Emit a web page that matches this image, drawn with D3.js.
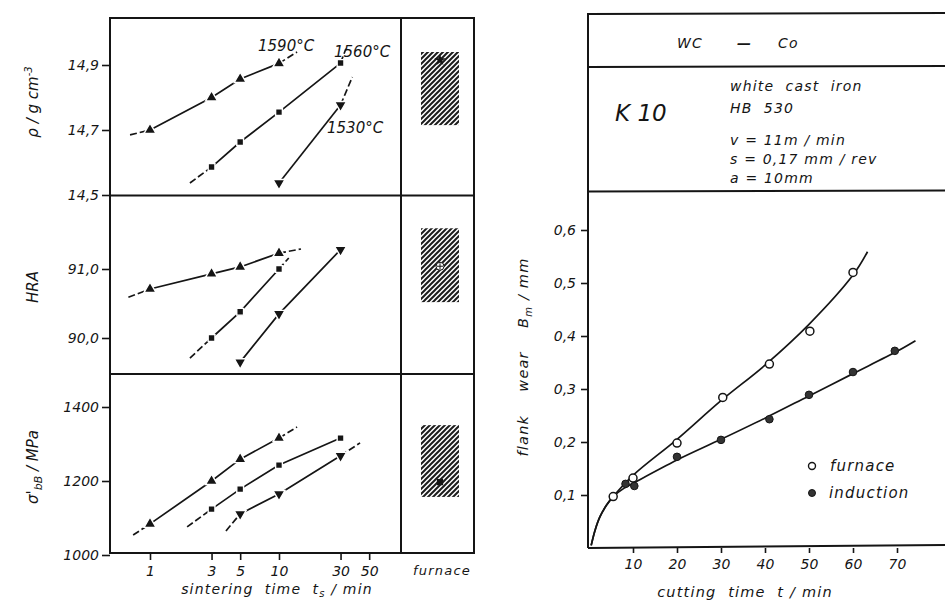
<!DOCTYPE html>
<html>
<head>
<meta charset="utf-8">
<script src="https://cdn.jsdelivr.net/npm/d3@7"></script>
<style>
  body { margin: 0; background: #fff; }
  text { font-family: "DejaVu Sans", sans-serif; font-style: italic; fill: #151515; }
  .lbl { letter-spacing: 1.2px; white-space: pre; }
</style>
</head>
<body>
<svg width="945" height="607"></svg>
<script>
// ---- left figure: sintering time (log) ----
var sinterTicks = [1, 3, 5, 10, 30, 50];
var tempLabels = ["1590°C", "1560°C", "1530°C"];

var rho1590 = [[1, 14.70], [3, 14.80], [5, 14.857], [10, 14.905]];
var rho1560 = [[3, 14.586], [5, 14.663], [10, 14.755], [30, 14.906]];
var rho1530 = [[10, 14.537], [30, 14.777]];
var rhoEnds = [[[0.7, 14.685], [13.8, 14.94]], [[2.04, 14.537], [33, 14.95]], [[10, 14.537], [37, 14.863]]];

var hra1590 = [[1, 90.71], [3, 90.93], [5, 91.03], [10, 91.23]];
var hra1560 = [[3, 90.0], [5, 90.38], [10, 91.0]];
var hra1530 = [[5, 89.65], [10, 90.35], [30, 91.28]];
var hraEnds = [[[0.68, 90.59], [14.8, 91.29]], [[2.04, 89.71], [11.9, 91.16]], [[5, 89.65], [30, 91.28]]];

var sig1590 = [[1, 1084], [3, 1200], [5, 1259], [10, 1316]];
var sig1560 = [[3, 1124], [5, 1178], [10, 1243], [30, 1316]];
var sig1530 = [[5, 1111], [10, 1165], [30, 1268]];
var sigEnds = [[[0.74, 1054], [13.8, 1346]], [[1.94, 1076], [30, 1316]], [[3.88, 1065], [42.5, 1303]]];

// furnace column: [low, high] band and marker
var rhoFurnace = [14.715, 14.94, 14.915];
var hraFurnace = [90.52, 91.59, 91.04];
var sigFurnace = [1157, 1351, 1197];

// ---- right figure: flank wear vs cutting time ----
var cutTicks = [10, 20, 30, 40, 50, 60, 70];
var wearTicks = [0.1, 0.2, 0.3, 0.4, 0.5, 0.6];
var furnacePts = [[5.5, 0.097], [10, 0.132], [20, 0.198], [30.4, 0.284], [41, 0.347], [50.2, 0.409], [60, 0.52]];
var inductionPts = [[8.3, 0.121], [10.3, 0.117], [20, 0.172], [30, 0.204], [41, 0.243], [50, 0.289], [60, 0.332], [69.5, 0.372]];
var furnaceCurve = [[0.5, 0.005], [1.4, 0.034], [2.5, 0.059], [4, 0.081], [5.5, 0.097], [10, 0.137], [20, 0.205],
  [30, 0.278], [40, 0.345], [50, 0.422], [60, 0.515], [63.3, 0.559]];
var inductionCurve = [[0.5, 0.005], [1.4, 0.034], [2.5, 0.059], [4, 0.081], [5.5, 0.097], [8, 0.113], [10, 0.122],
  [20, 0.166], [30, 0.205], [40, 0.245], [50, 0.287], [60, 0.329], [70, 0.371], [74.2, 0.391]];

var svg = d3.select("svg");
var ink = "#151515";
var comma = function(f) { return function(d) { return d3.format(f)(d).replace(".", ","); }; };

svg.append("defs").append("pattern")
  .attr("id", "hatch").attr("patternUnits", "userSpaceOnUse")
  .attr("width", 5).attr("height", 5)
  .append("path")
  .attr("d", "M-1,1 l2,-2 M0,5 l5,-5 M4,6 l2,-2")
  .attr("stroke", "#1c1c1c").attr("stroke-width", 2);

var x = d3.scaleLog().domain([1, 10]).range([150, 279]);

var panels = [
  { y: d3.scaleLinear().domain([14.5, 14.9]).range([195, 65]), ticks: [14.5, 14.7, 14.9], fmt: comma(".1f"),
    series: [rho1590, rho1560, rho1530], ends: rhoEnds, furnace: rhoFurnace, sym: d3.symbolStar },
  { y: d3.scaleLinear().domain([90, 91]).range([338, 269]), ticks: [90, 91], fmt: comma(".1f"),
    series: [hra1590, hra1560, hra1530], ends: hraEnds, furnace: hraFurnace, sym: d3.symbolCircle },
  { y: d3.scaleLinear().domain([1200, 1400]).range([481, 407]), ticks: [1000, 1200, 1400], fmt: d3.format("d"),
    series: [sig1590, sig1560, sig1530], ends: sigEnds, furnace: sigFurnace, sym: d3.symbolSquare }
];

var markers = [
  d3.symbol().type(d3.symbolTriangle).size(62),
  d3.symbol().type(d3.symbolSquare).size(46),
  d3.symbol().type(d3.symbolTriangle).size(62)
];

var line = d3.line().x(function(d) { return x(d[0]); });

panels.forEach(function(p) {
  var g = svg.append("g");
  line.y(function(d) { return p.y(d[1]); });

  g.append("g").attr("transform", "translate(110,0)")
    .call(d3.axisLeft(p.y).tickValues(p.ticks).tickFormat(p.fmt).tickSize(8).tickPadding(3))
    .call(function(a) {
      a.select(".domain").remove();
      a.selectAll("line").attr("stroke", ink).attr("stroke-width", 1.6);
      a.selectAll("text").attr("font-size", 14).attr("fill", ink);
    });

  p.series.forEach(function(s, i) {
    var e = p.ends[i];
    g.append("path").attr("d", line(s)).attr("fill", "none").attr("stroke", ink).attr("stroke-width", 1.7);
    [[e[0], s[0]], [s[s.length - 1], e[1]]].forEach(function(seg) {
      if (seg[0][0] === seg[1][0]) return;
      g.append("path").attr("d", line(seg)).attr("fill", "none").attr("stroke", ink)
        .attr("stroke-width", 1.7).attr("stroke-dasharray", "7,3");
    });
    g.selectAll(null).data(s).enter().append("path")
      .attr("d", markers[i])
      .attr("transform", function(d) {
        return "translate(" + x(d[0]) + "," + p.y(d[1]) + ")" + (i === 2 ? " rotate(180)" : "");
      })
      .attr("fill", ink).attr("stroke", "#fff").attr("stroke-width", 1.4);
  });

  // furnace band
  var f = p.furnace;
  g.append("rect").attr("x", 421).attr("width", 38)
    .attr("y", p.y(f[1])).attr("height", p.y(f[0]) - p.y(f[1]))
    .attr("fill", "url(#hatch)");
  var m = g.append("g").attr("transform", "translate(440," + p.y(f[2]) + ")");
  if (p.sym === d3.symbolCircle) {
    m.append("circle").attr("r", 4).attr("fill", "#fff").attr("stroke", ink).attr("stroke-width", 1);
    m.append("path").attr("d", "M-3,0H3M0,-3V3").attr("stroke", ink).attr("stroke-width", 1);
  } else {
    m.append("path").attr("d", d3.symbol().type(p.sym).size(40)).attr("fill", ink);
  }
});

// temperature labels
svg.append("text").attr("x", 258).attr("y", 51).attr("font-size", 15).text(tempLabels[0]);
svg.append("text").attr("x", 334).attr("y", 57).attr("font-size", 15).text(tempLabels[1]);
svg.append("text").attr("x", 327).attr("y", 133).attr("font-size", 15).text(tempLabels[2]);

// left frame
var frame = svg.append("g").attr("fill", "none").attr("stroke", ink).attr("stroke-width", 2);
frame.append("rect").attr("x", 110).attr("y", 18).attr("width", 364).attr("height", 535);
frame.append("line").attr("x1", 401).attr("x2", 401).attr("y1", 18).attr("y2", 553);
frame.append("line").attr("x1", 110).attr("x2", 474).attr("y1", 195.5).attr("y2", 195.5);
frame.append("line").attr("x1", 110).attr("x2", 474).attr("y1", 374).attr("y2", 374);

svg.append("g").attr("transform", "translate(0,553)")
  .call(d3.axisBottom(x).tickValues(sinterTicks).tickFormat(d3.format("d")).tickSize(7).tickPadding(6))
  .call(function(a) {
    a.select(".domain").remove();
    a.selectAll("line").attr("stroke", ink).attr("stroke-width", 1.6);
    a.selectAll("text").attr("font-size", 14).attr("fill", ink);
  });

svg.append("text").attr("class", "lbl").attr("x", 442).attr("y", 575).attr("text-anchor", "middle").attr("font-size", 13).text("furnace");
svg.append("text").attr("class", "lbl").attr("x", 277).attr("y", 594).attr("text-anchor", "middle").attr("font-size", 14)
  .html('sintering  time  t<tspan dy="3" font-size="10">s</tspan><tspan dy="-3"> / min</tspan>');

svg.append("text").attr("transform", "translate(38,102) rotate(-90)").attr("text-anchor", "middle").attr("font-size", 15)
  .html('ρ / g cm<tspan dy="-6" font-size="10">-3</tspan>');
svg.append("text").attr("transform", "translate(38,287) rotate(-90)").attr("text-anchor", "middle").attr("font-size", 15)
  .text("HRA");
svg.append("text").attr("transform", "translate(38,467) rotate(-90)").attr("text-anchor", "middle").attr("font-size", 15)
  .html('σ\'<tspan dy="4" font-size="11">bB</tspan><tspan dy="-4"> / MPa</tspan>');

// ---- right figure ----
var xr = d3.scaleLinear().domain([0, 70]).range([589, 897]);
var yr = d3.scaleLinear().domain([0, 0.6]).range([548, 230]);

var rf = svg.append("g").attr("stroke", ink).attr("stroke-width", 2).attr("fill", "none");
rf.append("line").attr("x1", 588).attr("x2", 945).attr("y1", 14).attr("y2", 13);
rf.append("line").attr("x1", 588).attr("x2", 945).attr("y1", 67).attr("y2", 66);
rf.append("line").attr("x1", 588).attr("x2", 945).attr("y1", 191.5).attr("y2", 190.5);
rf.append("line").attr("x1", 588).attr("x2", 588).attr("y1", 13).attr("y2", 548);
rf.append("line").attr("x1", 588).attr("x2", 945).attr("y1", 548).attr("y2", 545);

svg.append("g").attr("transform", "translate(588,0)")
  .call(d3.axisLeft(yr).tickValues(wearTicks).tickFormat(comma(".1f")).tickSize(7).tickPadding(5))
  .call(function(a) {
    a.select(".domain").remove();
    a.selectAll("line").attr("stroke", ink).attr("stroke-width", 1.6);
    a.selectAll("text").attr("font-size", 14).attr("fill", ink);
  });
svg.append("g").attr("transform", "translate(0,548)")
  .call(d3.axisBottom(xr).tickValues(cutTicks).tickFormat(d3.format("d")).tickSize(5).tickPadding(6))
  .call(function(a) {
    a.select(".domain").remove();
    a.selectAll("line").attr("stroke", ink).attr("stroke-width", 1.6);
    a.selectAll("text").attr("font-size", 14).attr("fill", ink);
  });

var curve = d3.line().x(function(d) { return xr(d[0]); }).y(function(d) { return yr(d[1]); })
  .curve(d3.curveCatmullRom.alpha(0.5));
svg.append("path").attr("d", curve(furnaceCurve)).attr("fill", "none").attr("stroke", ink).attr("stroke-width", 1.7);
svg.append("path").attr("d", curve(inductionCurve)).attr("fill", "none").attr("stroke", ink).attr("stroke-width", 1.7);

svg.selectAll(null).data(inductionPts).enter().append("circle")
  .attr("cx", function(d) { return xr(d[0]); }).attr("cy", function(d) { return yr(d[1]); })
  .attr("r", 3.8).attr("fill", "#333").attr("stroke", ink).attr("stroke-width", 1);
svg.selectAll(null).data(furnacePts).enter().append("circle")
  .attr("cx", function(d) { return xr(d[0]); }).attr("cy", function(d) { return yr(d[1]); })
  .attr("r", 4).attr("fill", "#fff").attr("stroke", ink).attr("stroke-width", 1.5);

// legend
svg.append("circle").attr("cx", 812).attr("cy", 466).attr("r", 3.5).attr("fill", "#fff").attr("stroke", ink).attr("stroke-width", 1.4);
svg.append("circle").attr("cx", 812).attr("cy", 493).attr("r", 3.5).attr("fill", "#333").attr("stroke", ink);
svg.append("text").attr("class", "lbl").attr("x", 830).attr("y", 471).attr("font-size", 15).text("furnace");
svg.append("text").attr("class", "lbl").attr("x", 829).attr("y", 498).attr("font-size", 15).text("induction");

// header texts
svg.append("text").attr("class", "lbl").attr("x", 677).attr("y", 48).attr("font-size", 14).text("WC");
svg.append("text").attr("x", 737).attr("y", 48).attr("font-size", 14).attr("font-weight", "bold").text("—");
svg.append("text").attr("class", "lbl").attr("x", 778).attr("y", 48).attr("font-size", 14).text("Co");
svg.append("text").attr("x", 615).attr("y", 121).attr("font-size", 23).text("K 10");
var info = ["white  cast  iron", "HB  530", "v = 11m / min", "s = 0,17 mm / rev", "a = 10mm"];
var infoY = [91, 113, 145, 164, 183];
info.forEach(function(t, i) {
  svg.append("text").attr("class", "lbl").attr("x", 730).attr("y", infoY[i]).attr("font-size", 14).text(t);
});

svg.append("text").attr("class", "lbl").attr("x", 745).attr("y", 597).attr("text-anchor", "middle").attr("font-size", 14.5)
  .text("cutting  time  t / min");
svg.append("text").attr("class", "lbl").attr("transform", "translate(528,357) rotate(-90)").attr("text-anchor", "middle").attr("font-size", 14.5)
  .html('flank    wear    B<tspan dy="4" font-size="10">m</tspan><tspan dy="-4"> / mm</tspan>');
</script>
</body>
</html>
